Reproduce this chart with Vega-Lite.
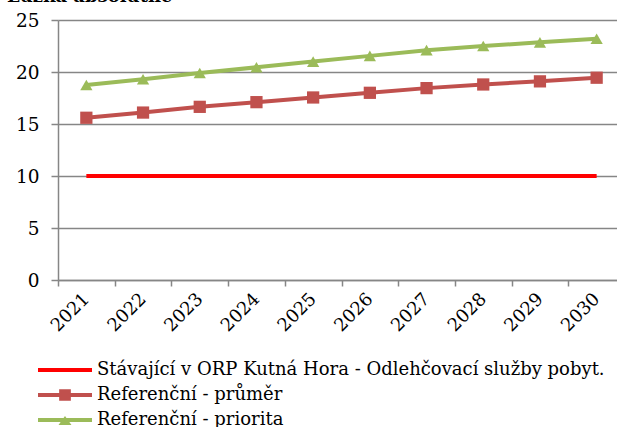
{
  "$schema": "https://vega.github.io/schema/vega-lite/v6.json",
  "width": 567,
  "height": 260,
  "autosize": {"type": "none"},
  "padding": {"left": 58, "top": 20, "right": 0, "bottom": 147},
  "background": "white",
  "title": {"text": "Lůžka absolutně", "anchor": "start", "frame": "group", "dx": -51, "offset": -9, "baseline": "alphabetic", "font": "DejaVu Serif", "fontSize": 18, "fontWeight": "bold", "color": "#000000"},
  "config": {
    "view": {"stroke": null},
    "font": "DejaVu Serif"
  },
  "data": {"values": [
    {"year": "2021", "series": "Stávající v ORP Kutná Hora - Odlehčovací služby pobyt.", "value": 10},
    {"year": "2022", "series": "Stávající v ORP Kutná Hora - Odlehčovací služby pobyt.", "value": 10},
    {"year": "2023", "series": "Stávající v ORP Kutná Hora - Odlehčovací služby pobyt.", "value": 10},
    {"year": "2024", "series": "Stávající v ORP Kutná Hora - Odlehčovací služby pobyt.", "value": 10},
    {"year": "2025", "series": "Stávající v ORP Kutná Hora - Odlehčovací služby pobyt.", "value": 10},
    {"year": "2026", "series": "Stávající v ORP Kutná Hora - Odlehčovací služby pobyt.", "value": 10},
    {"year": "2027", "series": "Stávající v ORP Kutná Hora - Odlehčovací služby pobyt.", "value": 10},
    {"year": "2028", "series": "Stávající v ORP Kutná Hora - Odlehčovací služby pobyt.", "value": 10},
    {"year": "2029", "series": "Stávající v ORP Kutná Hora - Odlehčovací služby pobyt.", "value": 10},
    {"year": "2030", "series": "Stávající v ORP Kutná Hora - Odlehčovací služby pobyt.", "value": 10},
    {"year": "2021", "series": "Referenční - průměr", "value": 15.6},
    {"year": "2022", "series": "Referenční - průměr", "value": 16.1},
    {"year": "2023", "series": "Referenční - průměr", "value": 16.65},
    {"year": "2024", "series": "Referenční - průměr", "value": 17.1},
    {"year": "2025", "series": "Referenční - průměr", "value": 17.55},
    {"year": "2026", "series": "Referenční - průměr", "value": 18.0},
    {"year": "2027", "series": "Referenční - průměr", "value": 18.45},
    {"year": "2028", "series": "Referenční - průměr", "value": 18.8},
    {"year": "2029", "series": "Referenční - průměr", "value": 19.1},
    {"year": "2030", "series": "Referenční - průměr", "value": 19.45},
    {"year": "2021", "series": "Referenční - priorita", "value": 18.75},
    {"year": "2022", "series": "Referenční - priorita", "value": 19.3},
    {"year": "2023", "series": "Referenční - priorita", "value": 19.9},
    {"year": "2024", "series": "Referenční - priorita", "value": 20.45},
    {"year": "2025", "series": "Referenční - priorita", "value": 21.0},
    {"year": "2026", "series": "Referenční - priorita", "value": 21.55},
    {"year": "2027", "series": "Referenční - priorita", "value": 22.1},
    {"year": "2028", "series": "Referenční - priorita", "value": 22.5},
    {"year": "2029", "series": "Referenční - priorita", "value": 22.85},
    {"year": "2030", "series": "Referenční - priorita", "value": 23.2}
  ]},
  "encoding": {
    "x": {
      "field": "year", "type": "ordinal", "title": null,
      "scale": {"paddingInner": 0, "paddingOuter": 0},
      "axis": {
        "labelAngle": -45, "labelAlign": "right", "labelBaseline": "middle",
        "labelFont": "DejaVu Serif", "labelFontSize": 18, "labelColor": "#000000",
        "labelPadding": 10, "tickBand": "extent", "tickSize": 6, "tickWidth": 1.5,
        "tickColor": "#868686", "domainColor": "#868686", "domainWidth": 1.5, "grid": false
      }
    },
    "y": {
      "field": "value", "type": "quantitative", "title": null,
      "scale": {"domain": [0, 25], "nice": false},
      "axis": {
        "values": [0, 5, 10, 15, 20, 25],
        "labelFont": "DejaVu Serif", "labelFontSize": 18.5, "labelColor": "#000000",
        "labelPadding": 12, "tickSize": 7, "tickWidth": 1.5, "tickColor": "#868686",
        "domainColor": "#868686", "domainWidth": 1.5,
        "grid": true, "gridColor": "#868686", "gridWidth": 1.5
      }
    },
    "color": {
      "field": "series", "type": "nominal",
      "scale": {
        "domain": ["Stávající v ORP Kutná Hora - Odlehčovací služby pobyt.", "Referenční - průměr", "Referenční - priorita"],
        "range": ["#FF0000", "#C0504D", "#9BBB59"]
      },
      "legend": {
        "title": null, "orient": "none", "legendX": -2, "legendY": 341,
        "direction": "vertical", "padding": 0,
        "symbolSize": 324, "labelOffset": 23, "rowPadding": 7,
        "labelFont": "DejaVu Serif", "labelFontSize": 18, "labelColor": "#000000",
        "labelLimit": 700,
        "encode": {
          "symbols": {
            "update": {
              "shape": {"signal": "datum.value === 'Referenční - průměr' ? 'M-3,-0.22H3V0.22H-3Z M-0.65,-0.65H0.65V0.65H-0.65Z' : datum.value === 'Referenční - priorita' ? 'M-3,-0.22H3V0.22H-3Z M0,-0.45L0.72,0.55H-0.72Z' : 'M-3,-0.22H3V0.22H-3Z'"},
              "fill": {"scale": "color", "field": "value"},
              "fillOpacity": {"value": 1},
              "opacity": {"value": 1},
              "strokeWidth": {"value": 0}
            }
          }
        }
      }
    }
  },
  "layer": [
    {"mark": {"type": "line", "strokeWidth": 4}},
    {
      "transform": [{"filter": "datum.series !== 'Stávající v ORP Kutná Hora - Odlehčovací služby pobyt.'"}],
      "mark": {"type": "point", "filled": true, "opacity": 1},
      "encoding": {
        "shape": {
          "field": "series", "type": "nominal",
          "scale": {"domain": ["Referenční - průměr", "Referenční - priorita"], "range": ["square", "triangle-up"]},
          "legend": null
        },
        "size": {"value": 150}
      }
    }
  ]
}
